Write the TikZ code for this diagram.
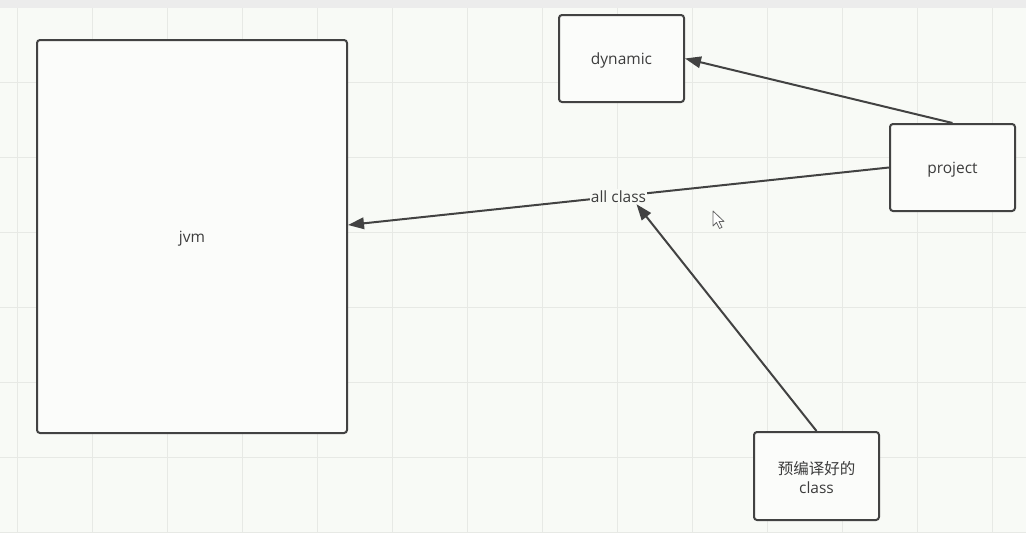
\documentclass[tikz,border=0pt]{standalone}
\usepackage{fontspec}
\setmainfont{Open Sans}
\newfontfamily\cjk{Noto Sans CJK SC}
\usetikzlibrary{arrows.meta,calc}
\definecolor{paper}{HTML}{F8FAF6}
\definecolor{boxfill}{HTML}{FBFCFA}
\definecolor{ink}{HTML}{424242}
\definecolor{gridc}{HTML}{E7E9E5}
\definecolor{bar}{HTML}{ECECEC}
\definecolor{txt}{HTML}{3C3C3C}
% place a label's baseline a fixed distance below the box centre
\newcommand{\dn}[2][-6pt]{\smash{\raisebox{#1}{#2}}}
\tikzset{
  box/.style={draw=ink, line width=2pt, fill=boxfill, rounded corners=3pt,
    text=txt, font=\fontsize{15.5}{20}\selectfont, inner sep=0pt},
  link/.style={draw=ink, line width=2pt, -{Triangle[length=16pt,width=11.5pt]}},
  tag/.style={fill=paper, text=txt, inner sep=1pt, font=\fontsize{15.5}{18}\selectfont},
}
\begin{document}
\begin{tikzpicture}[x=1pt,y=-1pt]
  % page and canvas
  \fill[paper] (0,0) rectangle (1026,533);
  \useasboundingbox (0,0) rectangle (1026,533);
  \fill[bar] (0,0) rectangle (1026,8);
  % background grid
  \foreach \gx in {17,92,...,1000} \draw[gridc, line width=1pt] (\gx,8) -- (\gx,533);
  \foreach \gy in {82,157,...,533} \draw[gridc, line width=1pt] (0,\gy) -- (1026,\gy);

  % boxes
  \node[box, minimum width=310pt, minimum height=393pt] (jvm) at (192,236.5) {\dn{jvm}};
  \node[box, minimum width=125pt, minimum height=87pt] (dynamic) at (621.5,58.5) {\dn{dynamic}};
  \node[box, minimum width=125pt, minimum height=87pt] (project) at (952.5,167.5) {\dn{project}};
  \node[box, minimum width=125pt, minimum height=88pt] (pre) at (816.5,476)
    {\dn[2pt]{\begin{tabular}[t]{@{}c@{}}{\cjk 预编译好的}\\[-1pt]class\end{tabular}}};

  % connectors
  \draw[link] (project.north) -- (dynamic.east);
  \draw[link] (project.west) -- node[tag, pos=0.5] (allclass) {all class} ($(jvm.east)+(0,-11.5)$);
  \draw[link] (pre.north) -- ($(allclass.south)+(18,0)$);

  % mouse pointer
  \draw[gray!80!black, line width=0.8pt, fill=white, line join=round]
    (713,211) -- (713,226) -- (716.5,222.5) -- (719.5,228.5) -- (722,227.3)
    -- (719,221.5) -- (724,221.5) -- cycle;
\end{tikzpicture}
\end{document}
